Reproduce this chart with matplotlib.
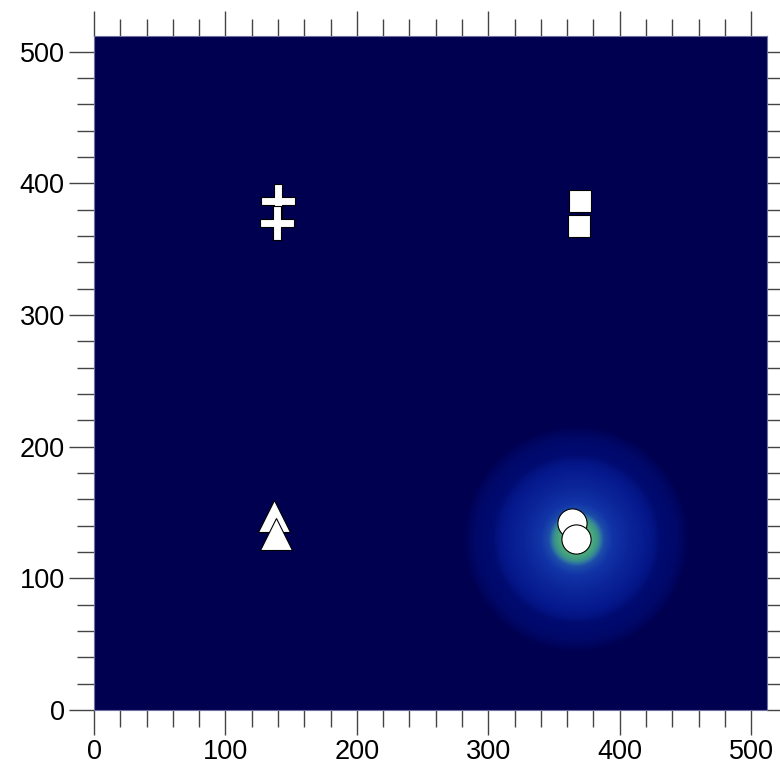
import numpy as np
import matplotlib
matplotlib.use("Agg")
import matplotlib.pyplot as plt
from matplotlib.colors import LinearSegmentedColormap
from matplotlib.path import Path
from matplotlib.ticker import MultipleLocator

plt.rcParams['font.family'] = ['Liberation Sans', 'DejaVu Sans']

# image size (pixels of the map)
map_size = 512

# glow centre and radial intensity profile
glow_center = (367, 130)
profile_radius = [0, 12, 17, 21, 28, 40, 55, 60, 64, 76, 82, 86, 512]
profile_value = [0.80, 0.70, 0.60, 0.42, 0.34, 0.27, 0.20, 0.16, 0.11, 0.085, 0.04, 0.0, 0.0]

# marker positions (x, y)
plus_x = [140, 139]
plus_y = [387, 370]
square_x = [370, 369]
square_y = [387, 368]
triangle_x = [137, 138.5]
triangle_y = [147, 134]
circle_x = [364, 366.5]
circle_y = [142, 130]

cmap = LinearSegmentedColormap.from_list(
    'glow', [(0.0, '#000050'), (0.1, '#000a6e'), (0.2, '#05188c'), (0.35, '#1235a8'),
             (0.5, '#2a6aa8'), (0.65, '#40a080'), (1.0, '#b0e070')])

yy, xx = np.mgrid[0:map_size, 0:map_size] + 0.5
rr = np.hypot(xx - glow_center[0], yy - glow_center[1])
field = np.interp(rr, profile_radius, profile_value)

fig = plt.figure(figsize=(7.8, 7.65), dpi=100)
ax = fig.add_axes([94 / 780, 55 / 765, 673 / 780, 674 / 765])
ax.imshow(field, origin='lower', extent=[0, map_size, 0, map_size], cmap=cmap,
          vmin=0, vmax=1, interpolation='bilinear', aspect='auto')

# thin plus marker
t = 0.24
plus_marker = Path([(-t, -1), (t, -1), (t, -t), (1, -t), (1, t), (t, t), (t, 1), (-t, 1),
                    (-t, t), (-1, t), (-1, -t), (-t, -t), (-t, -1)])

kw = dict(linestyle='none', markerfacecolor='white', markeredgecolor='black', markeredgewidth=0.8)
for x, y in zip(plus_x, plus_y):
    ax.plot(x, y, marker=plus_marker, markersize=25, **kw)
for x, y in zip(square_x, square_y):
    ax.plot(x, y, marker='s', markersize=16.5, **kw)
for x, y in zip(triangle_x, triangle_y):
    ax.plot(x, y, marker='^', markersize=23, **kw)
for x, y in zip(circle_x, circle_y):
    ax.plot(x, y, marker='o', markersize=21, **kw)

ax.set_xlim(0, map_size)
ax.set_ylim(0, map_size)
ax.xaxis.set_major_locator(MultipleLocator(100))
ax.xaxis.set_minor_locator(MultipleLocator(20))
ax.yaxis.set_major_locator(MultipleLocator(100))
ax.yaxis.set_minor_locator(MultipleLocator(20))
ax.tick_params(which='both', direction='out', top=True, right=True, color='#444444',
               width=1.0, labelsize=19.5, labelcolor='black')
ax.tick_params(which='major', length=18, pad=3)
ax.tick_params(which='minor', length=12)
for s in ax.spines.values():
    s.set_color('#7070a0')
    s.set_linewidth(0.8)

fig.savefig('out.png', dpi=100)
